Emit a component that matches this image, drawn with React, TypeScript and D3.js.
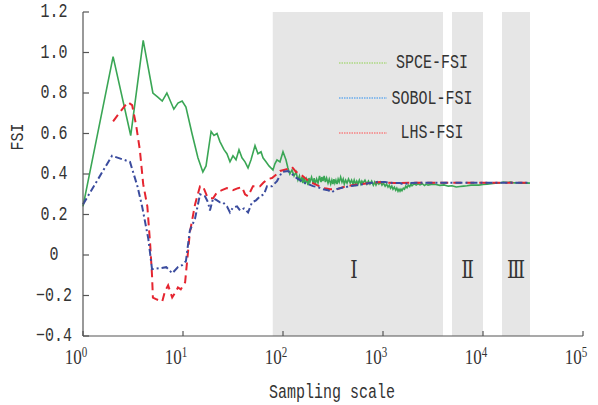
import * as d3 from "d3"

// [sample size N, FSI]
const spce: [number, number][] = [
  [1, 0.24], [2, 0.98], [3, 0.59], [4, 1.06], [5, 0.8], [5.6, 0.78], [6.2, 0.76], [6.9, 0.8],
  [8.1, 0.72], [8.9, 0.75], [9.8, 0.76], [10.7, 0.73], [12.3, 0.6], [14.1, 0.48], [15.8, 0.41],
  [17, 0.44], [19.1, 0.61], [20.4, 0.59], [21.9, 0.6], [23.4, 0.56], [25.7, 0.52], [27.5, 0.5],
  [29.5, 0.46], [31.6, 0.49], [33.9, 0.47], [36.3, 0.52], [38.9, 0.48], [41.7, 0.46], [44.7, 0.43],
  [47.9, 0.47], [52.5, 0.54], [56.2, 0.5], [60.3, 0.51], [63.1, 0.48], [67.6, 0.46], [72.4, 0.44],
  [79.4, 0.42], [83, 0.45], [87.1, 0.47], [93.3, 0.46], [100, 0.51], [107, 0.47], [112, 0.43],
  [117, 0.4], [123, 0.42], [129, 0.39], [135, 0.41],
  [141, 0.37], [146, 0.39], [150, 0.36], [155, 0.385], [158, 0.355], [162, 0.38], [166, 0.35],
  [172, 0.375], [178, 0.345], [182, 0.38], [186, 0.36], [193, 0.385], [200, 0.355], [205, 0.38],
  [210, 0.35], [217, 0.375], [224, 0.355], [232, 0.39], [240, 0.36], [245, 0.385], [251, 0.365],
  [258, 0.39], [265, 0.36], [273, 0.38], [282, 0.355], [290, 0.375], [300, 0.35], [308, 0.37],
  [316, 0.35], [323, 0.375], [330, 0.355], [338, 0.37], [347, 0.35], [356, 0.375], [365, 0.36],
  [377, 0.385], [389, 0.36], [400, 0.375], [410, 0.35], [423, 0.37], [437, 0.355], [452, 0.375],
  [470, 0.355], [485, 0.37], [501, 0.35], [515, 0.37], [530, 0.35], [546, 0.365], [562, 0.35],
  [580, 0.37], [600, 0.35], [615, 0.365], [631, 0.355], [660, 0.37], [690, 0.35], [715, 0.365],
  [741, 0.35], [770, 0.365], [800, 0.345], [825, 0.36], [851, 0.345], [880, 0.36], [910, 0.35],
  [945, 0.36], [977, 0.345], [1010, 0.355], [1050, 0.34], [1085, 0.35], [1122, 0.335],
  [1155, 0.345], [1190, 0.33], [1225, 0.34], [1259, 0.325], [1300, 0.335], [1340, 0.32],
  [1375, 0.33], [1413, 0.315], [1445, 0.325], [1480, 0.315], [1515, 0.325], [1549, 0.318],
  [1595, 0.33], [1640, 0.325], [1690, 0.34], [1738, 0.332], [1790, 0.345], [1850, 0.338],
  [1900, 0.35], [1950, 0.342], [2050, 0.352], [2150, 0.345], [2250, 0.352], [2344, 0.346],
  [2470, 0.352], [2600, 0.343], [2700, 0.35], [2818, 0.345], [3100, 0.35], [3388, 0.348],
  [3700, 0.344], [4074, 0.346], [4500, 0.34], [4898, 0.342], [5400, 0.336], [5888, 0.338],
  [6400, 0.34], [6918, 0.342], [7600, 0.345], [8318, 0.346], [9100, 0.345], [10000, 0.348],
  [11000, 0.35], [12023, 0.352], [13300, 0.354], [14791, 0.356], [16000, 0.36], [17378, 0.358],
  [19000, 0.36], [20417, 0.356], [22500, 0.357], [24547, 0.355], [27000, 0.356], [29512, 0.355],
]

const sobol: [number, number][] = [
  [1, 0.25], [1.95, 0.49], [2.95, 0.46], [3.5, 0.34], [3.9, 0.24], [4.5, 0.08], [4.9, -0.07],
  [5.9, -0.065], [6.8, -0.06], [7.8, -0.09], [8.9, -0.06], [9.8, -0.05], [10.7, -0.03],
  [11.7, 0.12], [13.2, 0.18], [14.8, 0.3], [16.6, 0.29], [17.8, 0.26], [18.6, 0.22], [20, 0.28],
  [21.9, 0.27], [23.4, 0.26], [25.1, 0.26], [27.5, 0.24], [29.5, 0.21], [31.6, 0.235],
  [34.7, 0.24], [37.2, 0.22], [40.7, 0.23], [44.7, 0.21], [49, 0.26], [53.7, 0.27], [58.9, 0.29],
  [64.6, 0.3], [69.2, 0.34], [77.6, 0.34], [87.1, 0.365], [97.7, 0.41], [112, 0.415], [123, 0.4],
  [132, 0.385], [148, 0.37], [158, 0.36], [178, 0.35], [200, 0.34], [224, 0.335], [251, 0.325],
  [282, 0.32], [309, 0.31], [339, 0.325], [372, 0.33], [417, 0.335], [468, 0.34], [550, 0.345],
  [631, 0.35], [741, 0.355], [871, 0.36], [1047, 0.36], [1259, 0.355], [1479, 0.355],
  [1585, 0.35], [1862, 0.355], [2344, 0.357], [3715, 0.357], [5888, 0.357], [9333, 0.357],
  [14791, 0.357], [20893, 0.357], [29512, 0.357],
]

const lhs: [number, number][] = [
  [2, 0.66], [2.3, 0.7], [2.8, 0.755], [3.1, 0.74], [3.4, 0.64], [3.7, 0.52], [4, 0.35],
  [4.4, 0.24], [4.7, 0.05], [4.9, -0.1], [5, -0.21], [5.5, -0.22], [6.2, -0.23], [6.6, -0.18],
  [7.1, -0.15], [7.8, -0.21], [8.5, -0.18], [8.9, -0.16], [9.5, -0.17], [10.5, -0.135],
  [11.7, 0.11], [13.2, 0.25], [14.8, 0.34], [15.8, 0.34], [17.4, 0.29], [18.6, 0.28], [20, 0.28],
  [21.9, 0.31], [24.5, 0.32], [27.5, 0.33], [31.6, 0.32], [35.5, 0.33], [38.9, 0.335],
  [41.7, 0.3], [44.7, 0.29], [50.1, 0.34], [58.9, 0.34], [64.6, 0.36], [70.8, 0.375],
  [77.6, 0.38], [87.1, 0.4], [93.3, 0.415], [102, 0.42], [112, 0.425], [123, 0.435], [135, 0.41],
  [148, 0.4], [166, 0.38], [186, 0.36], [209, 0.35], [229, 0.34], [263, 0.33], [295, 0.325],
  [347, 0.325], [398, 0.335], [437, 0.34], [490, 0.345], [589, 0.35], [741, 0.355], [933, 0.36],
  [1318, 0.355], [1862, 0.357], [2951, 0.357], [5888, 0.357], [11749, 0.357], [29512, 0.357],
]

// shaded convergence stages
const stageFrom = [79, 4900, 15500]
const stageTo = [3980, 10000, 29500]
const stageLabels = ["Ⅰ", "Ⅱ", "Ⅲ"]

const yTicks = [1.2, 1.0, 0.8, 0.6, 0.4, 0.2, 0, -0.2, -0.4]
const yTickLabels = ["1.2", "1.0", "0.8", "0.6", "0.4", "0.2", "0", "−0.2", "−0.4"]
const xExponents = [0, 1, 2, 3, 4, 5]

const legendNames = ["SPCE-FSI", "SOBOL-FSI", "LHS-FSI"]
const legendColours = ["#8fd14f", "#2a8ff0", "#ff4f4f"]

const W = 598
const H = 405
const left = 83
const right = 583
const top = 12
const bottom = 336
const mono = "'Liberation Mono', 'DejaVu Sans Mono', monospace"
const serif = "'Liberation Serif', 'DejaVu Serif', serif"
const textColour = "#333"

const Txt = ({ x, y, size = 15, sy = 1.3, anchor = "middle", family = mono, children }: any) => (
  <text
    transform={`translate(${x},${y}) scale(1,${sy})`}
    fontFamily={family}
    fontSize={size}
    textAnchor={anchor}
    fill={textColour}
  >
    {children}
  </text>
)

export default function App() {
  const x = d3.scaleLog().domain([1, 1e5]).range([left, right])
  const y = d3.scaleLinear().domain([-0.4, 1.2]).range([bottom, top])

  const line = d3
    .line<[number, number]>()
    .x((d) => x(d[0]))
    .y((d) => y(d[1]))

  return (
    <svg
      width={W}
      height={H}
      viewBox={`0 0 ${W} ${H}`}
      style={{ position: "absolute", left: 0, top: 0, background: "#fff" }}
    >
      {/* stage bands */}
      {stageFrom.map((f, i) => (
        <rect
          key={i}
          x={x(f)}
          y={top}
          width={x(stageTo[i]) - x(f)}
          height={bottom - top}
          fill="#e6e6e6"
        />
      ))}
      {stageLabels.map((s, i) => (
        <text
          key={i}
          transform={`translate(${x(Math.sqrt(stageFrom[i] * stageTo[i])) + (i === 0 ? -4 : 0)},278) scale(0.75,1)`}
          fontFamily="'DejaVu Serif', serif"
          fontSize={25}
          textAnchor="middle"
          fill="#333"
        >
          {s}
        </text>
      ))}

      {/* series */}
      <path d={line(spce) as string} fill="none" stroke="#3aa655" strokeWidth={1.6} />
      <path
        d={line(lhs) as string}
        fill="none"
        stroke="#e52530"
        strokeWidth={2}
        strokeDasharray="8,5"
      />
      <path
        d={line(sobol) as string}
        fill="none"
        stroke="#3b4c9e"
        strokeWidth={2}
        strokeDasharray="7,3,2,3"
      />

      {/* axes */}
      <g stroke="#555" strokeWidth={1.2} fill="none">
        <line x1={left} x2={left} y1={top} y2={bottom} />
        <line x1={left} x2={right} y1={bottom} y2={bottom} />
        {yTicks.map((t) => (
          <line key={t} x1={left} x2={left + 6} y1={y(t)} y2={y(t)} />
        ))}
        {xExponents.map((e) => (
          <line key={e} x1={x(10 ** e)} x2={x(10 ** e)} y1={bottom} y2={bottom - 5} />
        ))}
      </g>
      {yTicks.map((t, i) => (
        <Txt key={t} x={54} y={y(t) + 5}>
          {yTickLabels[i]}
        </Txt>
      ))}
      {xExponents.map((e) => (
        <text
          key={e}
          transform={`translate(${x(10 ** e) - 7},364) scale(1,1.25)`}
          fontFamily={serif}
          fontSize={17}
          textAnchor="middle"
          fill={textColour}
        >
          10
          <tspan fontSize={11} dy={-6}>
            {e}
          </tspan>
        </text>
      ))}
      <Txt x={332} y={398}>Sampling scale</Txt>
      <g transform="translate(23,137) rotate(-90)">
        <Txt x={0} y={0} sy={1.2}>FSI</Txt>
      </g>

      {/* legend */}
      {legendNames.map((n, i) => (
        <g key={n}>
          <line
            x1={339}
            x2={387}
            y1={63 + i * 35}
            y2={63 + i * 35}
            stroke={legendColours[i]}
            strokeWidth={1}
            strokeDasharray="1.5,1"
          />
          <Txt x={432} y={[68, 104, 138][i]} sy={1.35}>
            {n}
          </Txt>
        </g>
      ))}
    </svg>
  )
}
